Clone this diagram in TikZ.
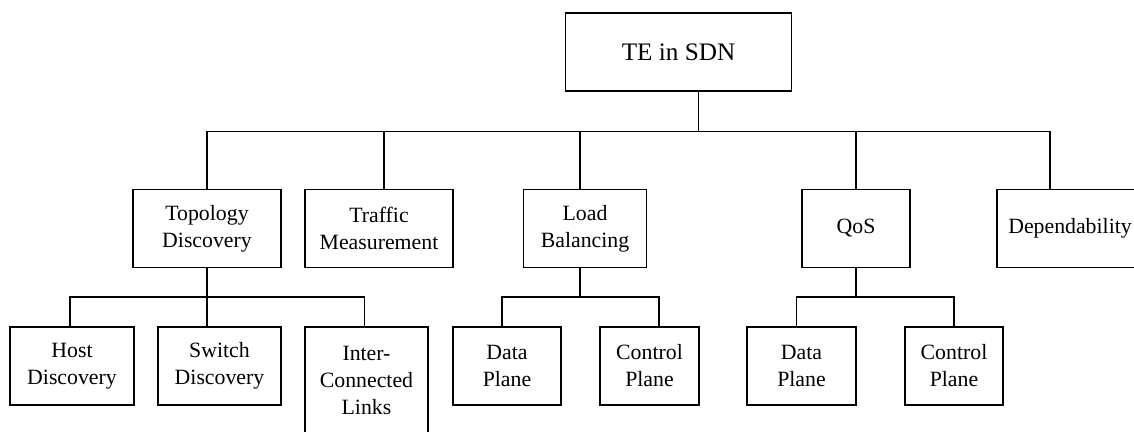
\documentclass[tikz,border=0pt]{standalone}
\usepackage{fontspec}
\setmainfont{Liberation Serif}
\tikzset{
  tebox/.style={draw, line width=0.6pt, align=center, inner sep=0pt,
    minimum height=39pt, font=\fontsize{10.9}{13.5}\selectfont},
  link/.style={line width=0.6pt}
}
\begin{document}
\begin{tikzpicture}[x=0.5pt,y=-0.5pt]
\useasboundingbox (0,0) rectangle (1134,432);
% Root
\node[tebox, minimum width=113pt, font=\fontsize{12.6}{15}\selectfont] (root) at (678.5,52) {TE in SDN};

% Second level
\node[tebox, minimum width=74pt] (topo) at (207,228.5) {Topology\\Discovery};
\node[tebox, minimum width=74pt] (traffic) at (379,228.5) {Traffic\\Measurement};
\node[tebox, minimum width=61.5pt] (lb) at (585,228.5) {Load\\Balancing};
\node[tebox, minimum width=54pt] (qos) at (856,228.5) {QoS};
\node[tebox, minimum width=73pt] (dep) at (1070,228.5) {Dependability};

% Third level
\node[tebox, minimum width=62pt] (host) at (72,366) {Host\\Discovery};
\node[tebox, minimum width=61.5pt] (switch) at (219.5,366) {Switch\\Discovery};
\node[tebox, minimum width=61.5pt, minimum height=53pt] (inter) at (366.5,380) {Inter-\\Connected\\Links};
\node[tebox, minimum width=54pt] (lbdata) at (507,366) {Data\\Plane};
\node[tebox, minimum width=49.5pt] (lbctrl) at (649.5,366) {Control\\Plane};
\node[tebox, minimum width=54.5pt] (qosdata) at (801.5,366) {Data\\Plane};
\node[tebox, minimum width=49pt] (qosctrl) at (954,366) {Control\\Plane};

% Root to second level
\draw[link] ([xshift=10pt]root.south) -- ++(0,40) coordinate (bus);
\foreach \n in {topo,qos}
  \draw[link] (\n.north) |- (bus);
\draw[link] ([xshift=2.5pt]traffic.north) |- (bus);
\draw[link] ([xshift=-2.5pt]lb.north) |- (bus);
\draw[link] ([xshift=-10pt]dep.north) |- (bus);

% Topology Discovery
\draw[link] (topo.south) -- ++(0,29) coordinate (tbus);
\draw[link] ([xshift=-1pt]host.north) |- (tbus) -| ([xshift=-1.2pt]inter.north);
\draw[link] (tbus) -- (switch.north -| tbus);

% Load Balancing
\draw[link] ([xshift=-2.5pt]lb.south) -- ++(0,29) coordinate (lbus);
\draw[link] ([xshift=-2.5pt]lbdata.north) |- (lbus) -| ([xshift=4.75pt]lbctrl.north);

% QoS
\draw[link] (qos.south) -- ++(0,29) coordinate (qbus);
\draw[link] ([xshift=-2.5pt]qosdata.north) |- (qbus) -| (qosctrl.north);
\end{tikzpicture}
\end{document}
